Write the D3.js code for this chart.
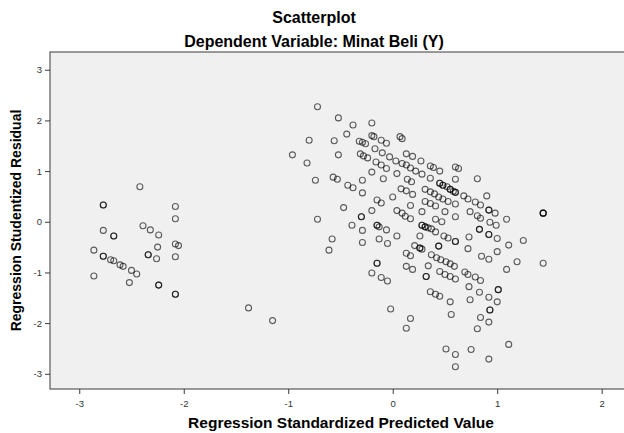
<!DOCTYPE html>
<html>
<head>
<meta charset="utf-8">
<script src="https://cdn.jsdelivr.net/npm/d3@7"></script>
<style>
  body { margin: 0; background: #fff; }
  svg text { font-family: Arial, "Liberation Sans", sans-serif; }
</style>
</head>
<body>
<svg id="main"></svg>
<script>
// predicted value / studentized residual
var leftX = [-2.42, -2.77, -2.77, -2.08, -2.08, -2.39, -2.32, -2.77, -2.67, -2.67, -2.24, -2.25, -2.08, -2.05,
  -2.86, -2.77, -2.77, -2.70, -2.67, -2.61, -2.58, -2.50, -2.45, -2.34, -2.34, -2.26, -2.08, -2.86, -2.52,
  -2.24, -2.24, -2.08, -2.08, -1.38, -1.15];
var leftY = [0.69, 0.33, 0.33, 0.30, 0.06, -0.08, -0.16, -0.17, -0.28, -0.28, -0.26, -0.50, -0.44, -0.47,
  -0.56, -0.68, -0.68, -0.75, -0.77, -0.85, -0.88, -0.96, -1.03, -0.65, -0.65, -0.73, -0.69, -1.07, -1.20,
  -1.25, -1.25, -1.43, -1.43, -1.70, -1.95];

var mainX = [-0.72, -0.52, -0.38, -0.20, -0.44, -0.80, -0.56, -0.32, -0.29, -0.26, -0.20, -0.18, -0.11, -0.06,
  0.07, 0.09, -0.96, -0.82, -0.52, -0.31, -0.28, -0.24, -0.17, -0.10, -0.03, 0.13, 0.19, -0.16, -0.11, -0.06,
  0.03, 0.09, 0.13, 0.17, 0.22, 0.28, -0.74, -0.57, -0.53, -0.20, -0.29, -0.09, 0.04, 0.14, 0.18, -0.43,
  -0.38, -0.29, -0.15, -0.11, 0.00, 0.08, 0.13, 0.19, -0.47, -0.20, -0.30, -0.30, 0.04, 0.09, 0.12, 0.17,
  0.17, -0.72, 0.27, 0.36, 0.39, 0.45, 0.60, 0.63, 0.36, 0.60, 0.81, 0.45, 0.45, 0.48, 0.48, 0.52, 0.55,
  0.55, 0.58, 0.60, 0.60, 0.31, 0.36, 0.40, 0.44, 0.48, 0.53, 0.60, 0.68, 0.72, 0.79, 0.84, 0.90, 0.31,
  0.36, 0.41, 0.28, 0.50, 0.60, 0.74, 0.81, 0.84, 0.92, 0.92, 0.98, 1.09, 1.44, 1.44, 1.44, 0.41, 0.47,
  0.93, 0.99, 0.28, 0.28, 0.31, 0.31, 0.34, 0.37, 0.41, 0.49, 0.53, 0.60, 0.60, 0.26, 0.73, 0.83, 0.83,
  0.92, 0.92, 1.00, 1.25, 1.11, -0.39, -0.15, -0.15, -0.13, -0.06, -0.29, 0.04, -0.58, -0.61, -0.29, -0.13,
  -0.05, 0.13, 0.17, 0.13, 0.19, 0.21, 0.26, 0.26, 0.28, -0.15, -0.15, -0.20, -0.11, -0.05, -0.02, 0.17,
  0.13, 0.34, 0.32, 0.32, 0.36, 0.41, 0.45, 0.44, 0.44, 0.72, 0.85, 0.92, 1.00, 1.19, 1.09, 1.44, 0.37,
  0.42, 0.46, 0.51, 0.55, 0.59, 0.45, 0.50, 0.55, 0.60, 0.69, 0.72, 0.79, 0.84, 0.73, 0.83, 1.01, 1.01,
  0.92, 1.00, 0.93, 0.93, 0.55, 0.74, 0.56, 0.84, 0.92, 0.81, 0.51, 0.60, 0.75, 1.11, 0.92, 0.60];
var mainY = [2.27, 2.05, 1.91, 1.95, 1.73, 1.61, 1.60, 1.59, 1.57, 1.54, 1.70, 1.68, 1.61, 1.55,
  1.68, 1.64, 1.32, 1.16, 1.32, 1.34, 1.30, 1.26, 1.44, 1.36, 1.28, 1.34, 1.29, 1.18, 1.12, 1.05,
  1.20, 1.15, 1.12, 1.06, 1.00, 0.94, 0.82, 0.88, 0.84, 0.98, 0.82, 0.85, 0.95, 0.84, 0.79, 0.72,
  0.67, 0.57, 0.43, 0.37, 0.49, 0.65, 0.61, 0.54, 0.28, 0.22, 0.10, 0.10, 0.22, 0.17, 0.11, 0.06,
  0.32, 0.05, 1.20, 1.10, 1.07, 1.00, 1.08, 1.05, 0.86, 0.84, 0.85, 0.76, 0.76, 0.72, 0.72, 0.69, 0.64,
  0.64, 0.60, 0.58, 0.58, 0.64, 0.59, 0.55, 0.49, 0.45, 0.40, 0.35, 0.51, 0.45, 0.39, 0.33, 0.51, 0.40,
  0.36, 0.31, 0.20, 0.20, 0.10, 0.20, 0.12, 0.07, 0.23, 0.23, 0.17, 0.05, 0.17, 0.17, 0.17, 0.05, 0.00,
  -0.01, -0.07, -0.07, -0.07, -0.10, -0.10, -0.12, -0.14, -0.20, -0.28, -0.32, -0.39, -0.39, -0.28, -0.30, -0.15, -0.15,
  -0.25, -0.25, -0.33, -0.37, -0.46, -0.07, -0.07, -0.07, -0.10, -0.16, -0.17, -0.28, -0.34, -0.56, -0.41, -0.34,
  -0.43, -0.62, -0.67, -0.88, -0.94, -0.47, -0.52, -0.52, -0.54, -0.82, -0.82, -1.01, -1.10, -1.17, -1.72, -1.91,
  -2.10, -0.87, -1.08, -1.08, -1.38, -1.43, -1.47, -0.48, -0.48, -0.53, -0.68, -0.74, -0.59, -0.79, -0.94, -0.82, -0.65,
  -0.71, -0.75, -0.79, -0.83, -0.88, -0.98, -1.04, -1.08, -1.13, -0.99, -1.04, -1.09, -1.16, -1.28, -1.39, -1.34, -1.34,
  -1.49, -1.58, -1.74, -1.74, -1.58, -1.54, -1.83, -1.89, -1.98, -2.11, -2.51, -2.62, -2.52, -2.42, -2.71, -2.86];

var xTicks = [-3, -2, -1, 0, 1, 2];
var yTicks = [-3, -2, -1, 0, 1, 2, 3];

var title = "Scatterplot";
var subtitle = "Dependent Variable: Minat Beli (Y)";
var xTitle = "Regression Standardized Predicted Value";
var yTitle = "Regression Studentized Residual";

var w = 624;
var h = 433;
var plotLeft = 50, plotTop = 52, plotRight = 632, plotBottom = 389;

var svg = d3.select("#main")
  .attr("width", w)
  .attr("height", h);

var points = [];
leftX.forEach(function(v, i) { points.push([v, leftY[i]]); });
mainX.forEach(function(v, i) { points.push([v, mainY[i]]); });

var xScale = d3.scaleLinear()
  .domain([-3.28, 2.29])
  .range([plotLeft, plotRight]);

var yScale = d3.scaleLinear()
  .domain([-3.30, 3.35])
  .range([plotBottom, plotTop]);

// plot frame
svg.append("rect")
  .attr("x", plotLeft)
  .attr("y", plotTop)
  .attr("width", plotRight - plotLeft)
  .attr("height", plotBottom - plotTop)
  .attr("fill", "#f0f0f0")
  .attr("stroke", "#3a3a3a")
  .attr("stroke-width", 1);

var fmt = function(d) { return String(d); };

var xAxis = d3.axisBottom(xScale)
  .tickValues(xTicks)
  .tickFormat(fmt)
  .tickSize(5)
  .tickSizeOuter(0);

var yAxis = d3.axisLeft(yScale)
  .tickValues(yTicks)
  .tickFormat(fmt)
  .tickSize(5)
  .tickSizeOuter(0);

var gx = svg.append("g")
  .attr("transform", "translate(0," + plotBottom + ")")
  .call(xAxis);
var gy = svg.append("g")
  .attr("transform", "translate(" + plotLeft + ",0)")
  .call(yAxis);

[gx, gy].forEach(function(g) {
  g.select(".domain").remove();
  g.selectAll("line").attr("stroke", "#3a3a3a");
  g.selectAll("text")
    .attr("fill", "#333")
    .style("font-size", "9.5px");
});
gx.selectAll("text").attr("dy", "1.1em");

svg.append("g")
  .selectAll("circle")
  .data(points)
  .enter()
  .append("circle")
  .attr("cx", function(d) { return xScale(d[0]); })
  .attr("cy", function(d) { return yScale(d[1]); })
  .attr("r", 3)
  .attr("fill", "none")
  .attr("stroke", "rgba(0,0,0,0.62)")
  .attr("stroke-width", 1.1);

svg.append("text")
  .attr("x", 314)
  .attr("y", 17)
  .attr("text-anchor", "middle")
  .attr("dominant-baseline", "central")
  .style("font-size", "16px")
  .style("font-weight", "bold")
  .text(title);

svg.append("text")
  .attr("x", 314)
  .attr("y", 41)
  .attr("text-anchor", "middle")
  .attr("dominant-baseline", "central")
  .style("font-size", "16px")
  .style("font-weight", "bold")
  .text(subtitle);

svg.append("text")
  .attr("x", (plotLeft + plotRight) / 2)
  .attr("y", 422)
  .attr("text-anchor", "middle")
  .attr("dominant-baseline", "central")
  .style("font-size", "15.5px")
  .style("font-weight", "bold")
  .text(xTitle);

svg.append("text")
  .attr("transform", "translate(16," + ((plotTop + plotBottom) / 2) + ") rotate(-90)")
  .attr("text-anchor", "middle")
  .attr("dominant-baseline", "central")
  .style("font-size", "14px")
  .style("font-weight", "bold")
  .text(yTitle);
</script>
</body>
</html>
